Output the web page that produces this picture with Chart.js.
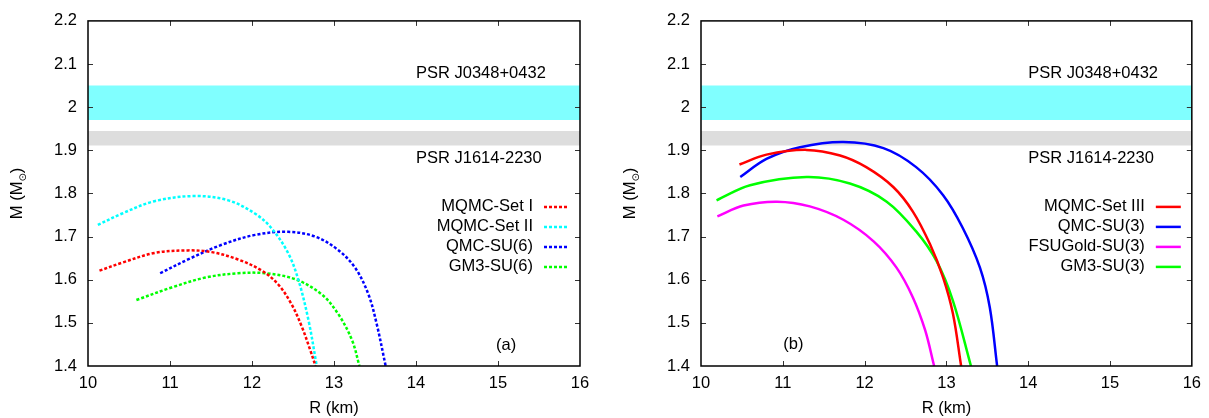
<!DOCTYPE html>
<html><head><meta charset="utf-8">
<script src="https://cdn.jsdelivr.net/npm/chart.js@4.4.1/dist/chart.umd.min.js"></script>
<style>
html,body{margin:0;padding:0;background:#fff;width:1209px;height:418px;overflow:hidden}
#ca{position:absolute;left:0;top:0}
#cb{position:absolute;left:600px;top:0}
</style></head><body>
<canvas id="ca" width="600" height="418"></canvas>
<canvas id="cb" width="609" height="418"></canvas>
<script>
// ---------- data ----------
const xTickLabels = ['10','11','12','13','14','15','16'];
const yTickLabels = ['1.4','1.5','1.6','1.7','1.8','1.9','2','2.1','2.2'];
const bandJ0348 = [1.97, 2.05];
const bandJ1614 = [1.911, 1.945];
const bandLabels = ['PSR J0348+0432', 'PSR J1614-2230'];

// panel (a)
const labelsA = ['MQMC-Set I', 'MQMC-Set II', 'QMC-SU(6)', 'GM3-SU(6)'];
const setI_R  = [10.14, 10.41, 10.81, 11.22, 11.51, 11.83, 12.12, 12.32, 12.48, 12.61, 12.71, 12.775];
const setI_M  = [1.621, 1.639, 1.662, 1.668, 1.664, 1.647, 1.621, 1.589, 1.544, 1.490, 1.437, 1.400];
const setII_R = [10.12, 10.41, 10.81, 11.30, 11.71, 12.04, 12.24, 12.44, 12.57, 12.69, 12.79];
const setII_M = [1.727, 1.753, 1.782, 1.794, 1.784, 1.753, 1.719, 1.662, 1.597, 1.505, 1.400];
const qmc6_R  = [10.88, 11.22, 11.63, 12.04, 12.44, 12.77, 13.05, 13.26, 13.42, 13.52, 13.63];
const qmc6_M  = [1.615, 1.647, 1.681, 1.704, 1.711, 1.700, 1.669, 1.627, 1.566, 1.498, 1.400];
const gm36_R  = [10.59, 11.02, 11.43, 11.83, 12.16, 12.53, 12.85, 13.05, 13.22, 13.31];
const gm36_M  = [1.553, 1.582, 1.605, 1.615, 1.615, 1.601, 1.566, 1.521, 1.460, 1.400];

// panel (b)
const labelsB = ['MQMC-Set III', 'QMC-SU(3)', 'FSUGold-SU(3)', 'GM3-SU(3)'];
const setIII_R = [10.47, 10.80, 11.29, 11.70, 12.02, 12.35, 12.59, 12.80, 12.96, 13.08, 13.18];
const setIII_M = [1.867, 1.890, 1.901, 1.888, 1.861, 1.815, 1.758, 1.682, 1.605, 1.521, 1.400];
const qmc3_R   = [10.48, 10.80, 11.21, 11.74, 12.23, 12.63, 12.96, 13.20, 13.41, 13.53, 13.62];
const qmc3_M   = [1.838, 1.880, 1.907, 1.919, 1.905, 1.861, 1.796, 1.720, 1.628, 1.536, 1.400];
const fsu3_R   = [10.20, 10.52, 10.93, 11.33, 11.74, 12.11, 12.39, 12.59, 12.74, 12.85];
const fsu3_M   = [1.747, 1.772, 1.781, 1.770, 1.739, 1.689, 1.628, 1.559, 1.483, 1.400];
const gm33_R   = [10.19, 10.60, 11.29, 11.82, 12.27, 12.63, 12.88, 13.08, 13.30];
const gm33_M   = [1.784, 1.819, 1.838, 1.823, 1.781, 1.712, 1.643, 1.551, 1.400];

// ---------- rendering ----------
const FONT = '"Liberation Sans", Arial, Helvetica, sans-serif';
const FS = 16.5;
const pts = (R, M) => R.map((r, i) => ({x: r, y: M[i]}));

function curve(label, R, M, color, dashed) {
  return {
    label, data: pts(R, M), borderColor: color, backgroundColor: color,
    borderWidth: 2.5, borderDash: dashed ? [3, 2] : [], borderCapStyle: 'butt',
    pointRadius: 0, fill: false, tension: 0.35, isCurve: true
  };
}
function bandSets(band, color) {
  return [
    {data: [{x: 10, y: band[1]}, {x: 16, y: band[1]}], fill: '+1', backgroundColor: color,
     borderColor: 'rgba(0,0,0,0)', borderWidth: 0, pointRadius: 0, tension: 0},
    {data: [{x: 10, y: band[0]}, {x: 16, y: band[0]}], fill: false, backgroundColor: color,
     borderColor: 'rgba(0,0,0,0)', borderWidth: 0, pointRadius: 0, tension: 0}
  ];
}

function panelPlugin(opt) {
  return {
    id: 'panelDecor',
    afterDraw(chart) {
      const ctx = chart.ctx, a = chart.chartArea, xs = chart.scales.x, ys = chart.scales.y;
      ctx.save();
      const seg = (x1, y1, x2, y2) => { ctx.beginPath(); ctx.moveTo(x1, y1); ctx.lineTo(x2, y2); ctx.stroke(); };
      // inward tick marks on all four sides
      ctx.strokeStyle = '#333'; ctx.lineWidth = 1; ctx.setLineDash([]);
      xs.ticks.forEach(t => {
        if (t.value <= xs.min + 1e-6 || t.value >= xs.max - 1e-6) return;
        const p = Math.round(xs.getPixelForValue(t.value)) + 0.5;
        seg(p, a.bottom, p, a.bottom - 5); seg(p, a.top, p, a.top + 5);
      });
      ys.ticks.forEach(t => {
        if (t.value <= ys.min + 1e-6 || t.value >= ys.max - 1e-6) return;
        const p = Math.round(ys.getPixelForValue(t.value)) + 0.5;
        seg(a.left, p, a.left + 5, p); seg(a.right, p, a.right - 5, p);
      });
      // frame
      ctx.strokeStyle = '#000'; ctx.lineWidth = 1.5;
      ctx.strokeRect(a.left, a.top, a.right - a.left, a.bottom - a.top);
      // band labels
      ctx.fillStyle = '#000'; ctx.font = FS + 'px ' + FONT;
      ctx.textBaseline = 'middle'; ctx.textAlign = 'left';
      ctx.fillText(bandLabels[0], xs.getPixelForValue(14.0), ys.getPixelForValue(2.079));
      ctx.fillText(bandLabels[1], xs.getPixelForValue(14.0), ys.getPixelForValue(1.880));
      // panel label
      ctx.textAlign = 'center';
      ctx.fillText(opt.panelText, xs.getPixelForValue(opt.panelPos[0]), ys.getPixelForValue(opt.panelPos[1]));
      // x title
      ctx.fillText('R (km)', (a.left + a.right) / 2, a.bottom + 42);
      // y title with subscript sun symbol
      ctx.save();
      ctx.translate(a.left - 66, (a.top + a.bottom) / 2);
      ctx.rotate(-Math.PI / 2);
      ctx.textBaseline = 'alphabetic'; ctx.textAlign = 'left';
      const main = 'M (M', sub = '\u2299', close = ')';
      ctx.font = FS + 'px ' + FONT;
      const w1 = ctx.measureText(main).width, w3 = ctx.measureText(close).width;
      ctx.font = '10px "DejaVu Sans", ' + FONT;
      const w2 = ctx.measureText(sub).width;
      let x0 = -(w1 + w2 + w3) / 2;
      ctx.font = FS + 'px ' + FONT; ctx.fillText(main, x0, 0);
      ctx.font = '10px "DejaVu Sans", ' + FONT; ctx.fillText(sub, x0 + w1, 4);
      ctx.font = FS + 'px ' + FONT; ctx.fillText(close, x0 + w1 + w2, 0);
      ctx.restore();
      // legend
      ctx.font = FS + 'px ' + FONT; ctx.textAlign = 'right'; ctx.textBaseline = 'middle';
      const curves = chart.data.datasets.filter(d => d.isCurve);
      curves.forEach((d, i) => {
        const y = a.top + 185.5 + 20 * i;
        ctx.fillStyle = '#000';
        ctx.fillText(d.label, a.right - 47, y);
        ctx.strokeStyle = d.borderColor; ctx.lineWidth = 2.5; ctx.lineCap = 'butt';
        ctx.setLineDash(d.borderDash || []);
        seg(a.right - 36, y + 0.5, a.right - 11, y + 0.5);
      });
      ctx.restore();
    }
  };
}

function makePanel(canvasId, datasets, opt) {
  return new Chart(document.getElementById(canvasId), {
    type: 'line',
    data: {datasets},
    options: {
      responsive: false, animation: false, devicePixelRatio: 1,
      layout: {padding: {top: 17, right: opt.padRight, left: 0, bottom: 0}},
      plugins: {legend: {display: false}, tooltip: {enabled: false}},
      scales: {
        x: {
          type: 'linear', min: 10, max: 16,
          grid: {display: false, drawTicks: false}, border: {display: false},
          ticks: {stepSize: 1, padding: 8, color: '#000', font: {family: FONT, size: FS},
                  callback: (v, i) => xTickLabels[i]},
          afterFit: s => { s.height = 52; }
        },
        y: {
          type: 'linear', min: 1.4, max: 2.2,
          grid: {display: false, drawTicks: false}, border: {display: false},
          ticks: {stepSize: 0.1, padding: 11, color: '#000', font: {family: FONT, size: FS},
                  callback: (v, i) => yTickLabels[i]},
          afterFit: s => { s.width = opt.yWidth; }
        }
      }
    },
    plugins: [panelPlugin(opt)]
  });
}

makePanel('ca', [
  curve(labelsA[0], setI_R, setI_M, '#ff0000', true),
  curve(labelsA[1], setII_R, setII_M, '#00ffff', true),
  curve(labelsA[2], qmc6_R, qmc6_M, '#0000ff', true),
  curve(labelsA[3], gm36_R, gm36_M, '#00ff00', true),
  ...bandSets(bandJ0348, '#80ffff'),
  ...bandSets(bandJ1614, '#dddddd')
], {padRight: 20, yWidth: 88, panelText: '(a)', panelPos: [15.1, 1.447]});

makePanel('cb', [
  curve(labelsB[0], setIII_R, setIII_M, '#ff0000', false),
  curve(labelsB[1], qmc3_R, qmc3_M, '#0000ff', false),
  curve(labelsB[2], fsu3_R, fsu3_M, '#ff00ff', false),
  curve(labelsB[3], gm33_R, gm33_M, '#00ff00', false),
  ...bandSets(bandJ0348, '#80ffff'),
  ...bandSets(bandJ1614, '#dddddd')
], {padRight: 16, yWidth: 101, panelText: '(b)', panelPos: [11.13, 1.449]});
</script>
</body></html>
